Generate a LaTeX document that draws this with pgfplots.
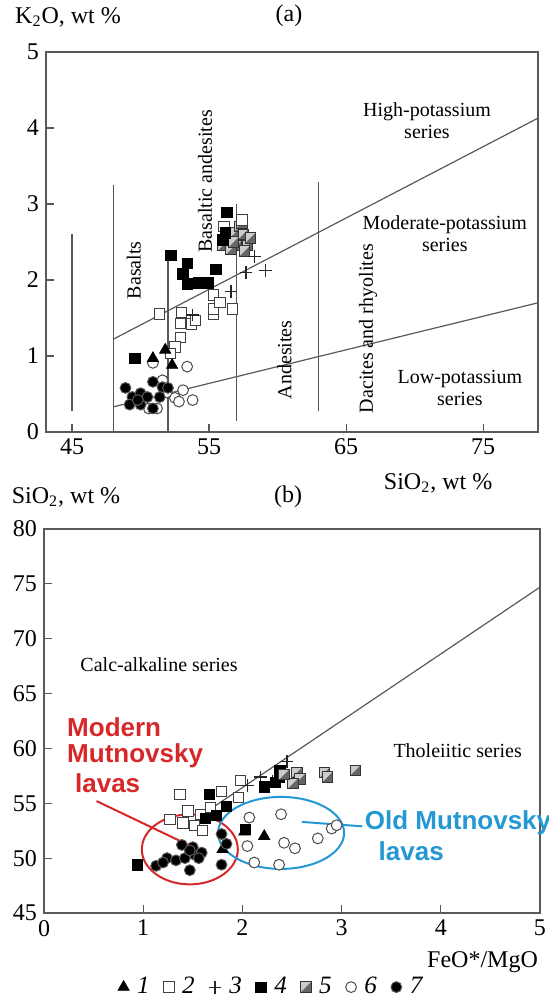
\documentclass[border=0pt]{standalone}
\usepackage{pgfplots}
\pgfplotsset{compat=1.18}
\usepackage{fontspec}
\setmainfont{Liberation Serif}
\newfontfamily\callout{Liberation Sans}

\definecolor{frame}{gray}{0.35}
\definecolor{modred}{RGB}{214,40,40}
\definecolor{oldblue}{RGB}{35,152,212}

% square split along the diagonal, lower-right half shaded
\pgfdeclareplotmark{halfsq}{%
  \pgfpathrectangle{\pgfqpoint{-\pgfplotmarksize}{-\pgfplotmarksize}}{\pgfqpoint{2\pgfplotmarksize}{2\pgfplotmarksize}}%
  \pgfusepathqfill
  \begin{pgfscope}%
    \pgfsetfillcolor{black!60}%
    \pgfpathmoveto{\pgfqpoint{-\pgfplotmarksize}{-\pgfplotmarksize}}%
    \pgfpathlineto{\pgfqpoint{\pgfplotmarksize}{-\pgfplotmarksize}}%
    \pgfpathlineto{\pgfqpoint{\pgfplotmarksize}{\pgfplotmarksize}}%
    \pgfpathclose
    \pgfusepathqfill
  \end{pgfscope}%
  \pgfpathrectangle{\pgfqpoint{-\pgfplotmarksize}{-\pgfplotmarksize}}{\pgfqpoint{2\pgfplotmarksize}{2\pgfplotmarksize}}%
  \pgfusepathqstroke
}

\tikzset{
  zone/.style={font=\fontsize{10}{11}\selectfont, align=center},
  lbl/.style={font=\fontsize{12}{14}\selectfont},
}

\pgfplotsset{
  panel/.style={
    scale only axis, clip=false,
    axis line style={draw=frame, line width=0.6pt},
    tick style={draw=frame, line width=0.6pt},
    tick align=inside, tick pos=left, major tick length=4pt,
    ticklabel style={font=\fontsize{12}{14}\selectfont},
    /pgf/number format/assume math mode=true,
    xticklabel={\pgfmathprintnumber{\tick}},
    yticklabel={\pgfmathprintnumber{\tick}},
  },
  guide/.style={draw=frame, line width=0.6pt},
  s1/.style={only marks, mark=triangle*, mark size=3.2pt, mark options={fill=black, draw=black, line width=0.4pt}},
  s2/.style={only marks, mark=square*, mark size=2.6pt, mark options={fill=white, draw=black!75, line width=0.5pt}},
  s3/.style={only marks, mark=+, mark size=3.2pt, mark options={draw=black!85, line width=0.6pt}},
  s4/.style={only marks, mark=square*, mark size=2.6pt, mark options={fill=black, draw=black, line width=0.4pt}},
  s5/.style={only marks, mark=halfsq, mark size=2.6pt, mark options={fill=black!20, draw=black!80, line width=0.5pt}},
  s6/.style={only marks, mark=*, mark size=2.7pt, mark options={fill=white, draw=black!70, line width=0.5pt}},
  s7/.style={only marks, mark=*, mark size=2.7pt, mark options={fill=black, draw=black!65, line width=0.5pt}},
}

\begin{document}
\begin{tikzpicture}
\useasboundingbox (0,0) rectangle (274.5pt,500pt);

% ---------------- (a) K2O vs SiO2 ----------------
\begin{axis}[panel,
  at={(23pt,284pt)}, anchor=south west,
  width=246pt, height=190pt,
  xmin=43.1, xmax=79, ymin=0, ymax=5,
  xtick={45,55,65,75}, ytick={0,1,2,3,4,5},
]
% rock-type boundaries
\addplot[guide] coordinates {(45,0.27) (45,2.6)};
\addplot[guide] coordinates {(48,0) (48,3.25)};
\addplot[guide] coordinates {(52,0) (52,2.3)};
\addplot[guide] coordinates {(57,0.14) (57,3.0)};
\addplot[guide] coordinates {(63,0.27) (63,3.29)};
% series boundaries
\addplot[guide] coordinates {(48,1.22) (79,4.13)};
\addplot[guide] coordinates {(48,0.33) (79,1.70)};

\addplot[s5] coordinates {(56.0,2.45) (56.5,2.55) (56.9,2.62) (57.2,2.70) (57.5,2.60)
  (57.8,2.45) (57.0,2.45) (56.6,2.40) (57.4,2.75) (58.0,2.55) (56.8,2.50) (57.6,2.38)};
\addplot[s2] coordinates {(51.4,1.55) (53.0,1.57) (52.9,1.43) (53.7,1.42) (54.0,1.47)
  (55.3,1.55) (55.3,1.62) (55.3,1.80) (55.8,1.70) (56.7,1.62) (52.9,1.24) (52.5,1.12)
  (52.2,1.03) (56.1,2.70) (57.4,2.79)};
\addplot[s3] coordinates {(58.3,2.31) (59.1,2.13) (57.7,2.10) (56.6,1.85) (53.8,1.54)};
\addplot[s4] coordinates {(56.3,2.89) (52.2,2.32) (53.4,2.22) (53.1,2.08) (55.5,2.14)
  (53.4,1.95) (54.2,1.96) (54.9,1.96) (56.0,2.53) (49.6,0.97) (56.2,2.62)};
\addplot[s6] coordinates {(53.4,0.86) (51.6,0.68) (53.1,0.55) (52.5,0.45) (53.8,0.42)
  (50.6,0.31) (51.2,0.31) (50.9,0.91) (52.8,0.40) (51.9,0.52)};
\addplot[s1] coordinates {(50.9,0.97) (51.8,1.08) (52.3,0.88)};
\addplot[s7] coordinates {(48.9,0.58) (49.4,0.46) (50.0,0.51) (50.9,0.66) (51.6,0.59)
  (52.0,0.58) (49.2,0.36) (50.0,0.36) (50.9,0.31) (50.5,0.46) (49.8,0.42) (51.4,0.46)};

\node[zone] at (axis cs:70.9,4.09) {High-potassium\\series};
\node[zone] at (axis cs:72.2,2.61) {Moderate-potassium\\series};
\node[zone] at (axis cs:73.3,0.58) {Low-potassium\\series};
\node[zone, rotate=90] at (axis cs:49.5,2.13) {Basalts};
\node[zone, rotate=90] at (axis cs:54.7,3.30) {Basaltic andesites};
\node[zone, rotate=90] at (axis cs:60.5,0.95) {Andesites};
\node[zone, rotate=90] at (axis cs:66.6,1.36) {Dacites and rhyolites};

\node[lbl, anchor=west] at (rel axis cs:-0.077,1.092) {K\textsubscript{2}O, wt \%};
\node[lbl] at (rel axis cs:0.494,1.095) {(a)};
\node[lbl] at (rel axis cs:0.797,-0.134) {SiO\textsubscript{2}, wt \%};
\end{axis}

% ---------------- (b) SiO2 vs FeO*/MgO ----------------
\begin{axis}[panel,
  at={(22pt,43.5pt)}, anchor=south west,
  width=248pt, height=192pt,
  xmin=0, xmax=5, ymin=45, ymax=80,
  xtick={0,1,2,3,4,5}, ytick={45,50,...,80},
  legend columns=-1,
  legend style={at={(rel axis cs:0.46,-0.193)}, anchor=center, draw=none, fill=none,
    font=\itshape\fontsize{12.5}{14}\selectfont,
    /tikz/every even column/.append style={column sep=5pt},
    /tikz/every odd column/.append style={column sep=2pt}},
]
% calc-alkaline / tholeiitic divide
\addplot[guide, forget plot] coordinates {(1.6,54.0) (5,74.7)};

\addplot[s1] coordinates {(2.02,52.4) (2.22,52.0) (1.80,50.8)};
\addplot[s2] coordinates {(1.37,55.8) (1.79,56.1) (1.96,55.5) (1.58,54.0) (1.27,53.5)
  (1.40,53.2) (1.52,53.0) (1.60,52.5) (1.98,57.1) (1.45,54.3) (1.68,54.6)};
\addplot[s3] coordinates {(2.45,58.8) (2.18,57.4) (2.05,56.6) (2.30,57.0)};
\addplot[s4] coordinates {(0.94,49.4) (1.67,55.8) (1.84,54.7) (1.63,53.6) (1.74,53.9)
  (2.03,52.6) (2.22,56.5) (2.37,57.4) (2.38,58.0) (2.33,56.9)};
\addplot[s5] coordinates {(2.55,57.8) (2.58,57.2) (2.51,56.8) (2.83,57.8) (2.86,57.4)
  (3.14,58.0) (2.42,57.6)};
\addplot[s6] coordinates {(2.07,53.7) (2.39,54.0) (2.05,51.1) (2.12,49.6) (2.37,49.4)
  (2.42,51.4) (2.53,50.9) (2.76,51.8) (2.90,52.7) (2.95,53.0)};
\addplot[s7] coordinates {(1.13,49.3) (1.24,50.0) (1.33,49.8) (1.42,50.0) (1.47,48.9)
  (1.52,50.3) (1.50,51.0) (1.39,51.2) (1.59,50.5) (1.47,50.7) (1.79,49.4) (1.84,51.3)
  (1.79,52.2) (1.56,50.0) (1.20,49.6)};
\legend{1, 2, 3, 4, 5, 6, 7}

\node[zone] at (axis cs:1.16,67.6) {Calc-alkaline series};
\node[zone] at (axis cs:4.17,59.8) {Tholeiitic series};

% grouping of the two lava generations
\draw[modred, line width=1pt] (axis cs:1.47,50.8) ellipse [x radius=24pt, y radius=17.5pt];
\draw[oldblue, line width=1pt] (axis cs:2.39,52.3) ellipse [x radius=31.5pt, y radius=18pt];
\draw[modred, line width=1pt] (axis cs:0.53,55.2) -- (axis cs:1.48,51.1);
\draw[oldblue, line width=1pt] (axis cs:2.60,53.3) -- (axis cs:3.21,52.9);
\begin{scope}[every node/.style={anchor=west, inner sep=0pt, font=\callout\bfseries\fontsize{13}{15}\selectfont}]
  \node[modred] at (axis cs:0.23,61.9) {Modern};
  \node[modred] at (axis cs:0.23,59.3) {Mutnovsky};
  \node[modred] at (axis cs:0.31,56.8) {lavas};
  \node[oldblue] at (axis cs:3.23,53.2) {Old Mutnovsky};
  \node[oldblue] at (axis cs:3.37,50.6) {lavas};
\end{scope}

\node[lbl, anchor=west] at (rel axis cs:-0.079,1.083) {SiO\textsubscript{2}, wt \%};
\node[lbl] at (rel axis cs:0.492,1.083) {(b)};
\node[lbl, anchor=east] at (rel axis cs:1.01,-0.128) {FeO*/MgO};
\end{axis}
\end{tikzpicture}
\end{document}
